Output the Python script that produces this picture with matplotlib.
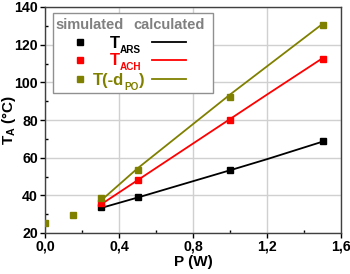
import matplotlib.pyplot as plt
import matplotlib.ticker as ticker
from matplotlib.patches import Rectangle
from matplotlib.lines import Line2D

plt.rcParams['font.family'] = ['Liberation Sans', 'DejaVu Sans']
plt.rcParams['font.weight'] = 'bold'
plt.rcParams['mathtext.fontset'] = 'custom'
plt.rcParams['mathtext.rm'] = 'Liberation Sans:bold'
plt.rcParams['mathtext.it'] = 'Liberation Sans:bold'
plt.rcParams['mathtext.bf'] = 'Liberation Sans:bold'

# simulated (markers)
p_ars = [0.3, 0.5, 1.0, 1.5]
t_ars = [33.8, 39.3, 53.5, 68.7]
p_ach = [0.3, 0.5, 1.0, 1.5]
t_ach = [35.9, 48.4, 80.2, 112.3]
p_dpo = [0.0, 0.15, 0.3, 0.5, 1.0, 1.5]
t_dpo = [25.3, 29.7, 38.4, 53.5, 92.2, 130.3]

# calculated (lines)
p_calc = [0.3, 0.5, 1.0, 1.2, 1.5]
t_ars_calc = [33.2, 38.8, 53.3, 59.2, 68.5]
t_ach_calc = [35.0, 48.0, 80.5, 93.5, 112.8]
t_dpo_calc = [37.0, 54.3, 93.5, 108.5, 131.0]

olive = '#808000'
colors = ['black', '#ff0000', olive]

W, H = 350, 274
fig = plt.figure(figsize=(3.5, 2.74), dpi=100)
ax = fig.add_axes([45 / W, 1 - 233 / H, 296 / W, 226 / H])

ax.plot(p_calc, t_ars_calc, color=colors[0], lw=1.3)
ax.plot(p_calc, t_ach_calc, color=colors[1], lw=1.3)
ax.plot(p_calc, t_dpo_calc, color=colors[2], lw=1.3)
ax.plot(p_ars, t_ars, 's', color=colors[0], ms=5, zorder=3)
ax.plot(p_ach, t_ach, 's', color=colors[1], ms=5, zorder=3)
ax.plot(p_dpo, t_dpo, 's', color=colors[2], ms=5, zorder=3)

ax.set_xlim(0, 1.6)
ax.set_ylim(20, 140)
ax.xaxis.set_major_locator(ticker.MultipleLocator(0.4))
ax.xaxis.set_minor_locator(ticker.MultipleLocator(0.2))
ax.yaxis.set_major_locator(ticker.MultipleLocator(20))
ax.yaxis.set_minor_locator(ticker.MultipleLocator(10))
ax.xaxis.set_major_formatter(ticker.FuncFormatter(lambda v, pos: ('%.1f' % v).replace('.', ',')))
ax.tick_params(which='major', length=3.5, width=1, labelsize=10.2, pad=1.5)
ax.tick_params(which='minor', length=2.5, width=1, direction='in')
ax.grid(True, which='major', color='#d0d0d0', lw=1)
ax.set_axisbelow(True)
for s in ax.spines.values():
    s.set_color('#404040')
    s.set_linewidth(1)

ax.set_xlabel('P (W)', fontsize=11, fontweight='bold', labelpad=1)
fig.text(9 / W, 1 - 120 / H, r'$\mathrm{T_A}$ (°C)', rotation=90, ha='center', va='center',
         fontsize=11, fontweight='bold')


# legend drawn by hand, in figure pixels from the top-left
def px(x, y):
    return x / W, 1 - y / H


fig.patches.append(Rectangle(px(53, 93), 160 / W, 80 / H, transform=fig.transFigure,
                             facecolor='white', edgecolor='#909090', lw=1, zorder=4))
fig.text(*px(90, 25), 'simulated', ha='center', va='center',
         color='#808080', fontsize=10.5, fontweight='bold', zorder=5)
fig.text(*px(169, 25), 'calculated', ha='center', va='center',
         color='#808080', fontsize=10.5, fontweight='bold', zorder=5)

renderer = fig.canvas.get_renderer()


def chain(x, y, parts, color):
    # parts: list of (text, is_subscript)
    for txt, sub in parts:
        yy = y + 5 if sub else y
        t = fig.text(*px(x, yy), txt, ha='left', va='baseline', color=color,
                     fontsize=7.2 if sub else 12, fontweight='bold', zorder=5)
        bb = t.get_window_extent(renderer)
        x += bb.width


label_parts = [[('T', False), ('ARS', True)],
               [('T', False), ('ACH', True)],
               [('T(-d', False), ('PO', True), (')', False)]]
rows = [42, 60, 79]
baselines = [48, 65, 85]
lefts = [110, 110, 93]
for parts, c, row, base, lx in zip(label_parts, colors, rows, baselines, lefts):
    fig.lines.append(Line2D([80 / W], [1 - row / H], marker='s', ms=5, color=c,
                            transform=fig.transFigure, zorder=5))
    chain(lx, base, parts, c)
    fig.lines.append(Line2D([152 / W, 186 / W], [1 - row / H, 1 - row / H], color=c, lw=1.3,
                            transform=fig.transFigure, zorder=5))

fig.savefig('out.png', dpi=100)
